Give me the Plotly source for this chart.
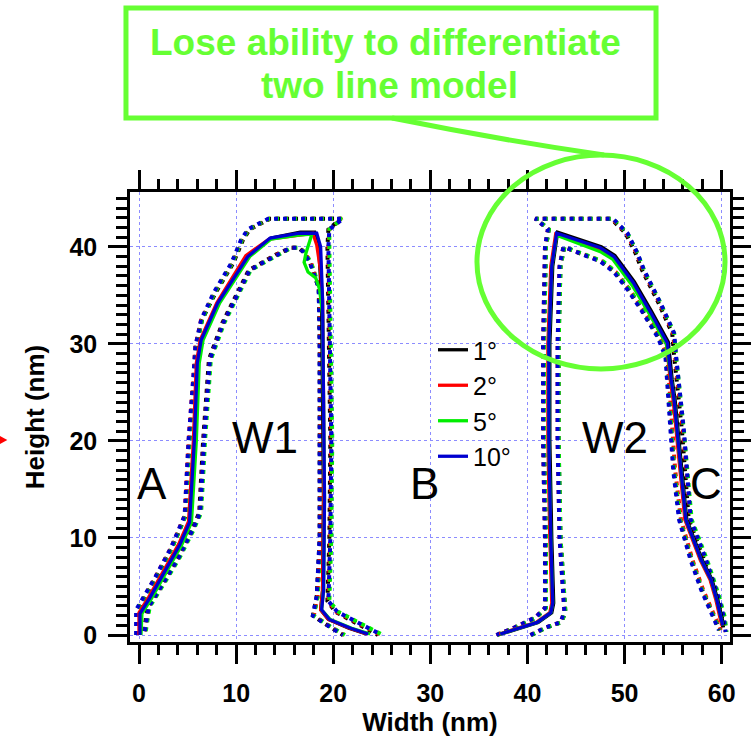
import plotly.graph_objects as go

ANGLES = ["1°", "2°", "5°", "10°"]
COLORS = ["#000000", "#ff0000", "#00ee00", "#0000d0"]

N = None
# ---- best-fit profiles (W1, gap, W2) ----
FIT_X_1 = [0.1, 0.2, 1.2, 2.8, 4.3, 5.3, 5.8, 6.1, 6.5, 8.2, 11.3, 13.6, 16.6, 18.1, 18.5, 18.8, 18.9, 19.0, 18.9, 18.7, 19.5, 21.6, 23.4, N,
           37.3, 39.1, 41.1, 42.5, 42.7, 42.5, 42.3, 42.3, 42.6, 43.1, 45.3, 47.6, 49.0, 51.0, 52.8, 54.5, 54.9, 55.2, 55.9, 56.4, 58.0, 59.0, 59.6, 60.2]
FIT_Y_1 = [0.0, 2.2, 3.8, 6.7, 9.3, 11.6, 20.0, 28.0, 30.4, 34.2, 39.0, 40.9, 41.5, 41.5, 40.0, 34.5, 24.0, 14.0, 4.6, 2.6, 1.6, 0.7, 0.1, N,
           0.1, 0.7, 1.3, 2.3, 3.3, 10.0, 20.0, 30.0, 38.0, 41.5, 40.8, 40.0, 39.1, 36.4, 33.3, 30.2, 26.3, 24.2, 17.0, 11.9, 7.7, 5.7, 3.6, 1.0]
FIT_X_2 = [0.0, 0.0, 1.0, 2.6, 4.1, 5.1, 5.6, 5.9, 6.3, 8.0, 11.0, 13.4, 16.3, 17.9, 18.3, 18.7, 18.9, 19.0, 19.0, 18.9, 18.7, 19.5, 21.7, 23.5, N,
           37.1, 38.9, 40.9, 42.3, 42.5, 42.3, 42.1, 42.1, 42.4, 42.9, 45.1, 47.4, 48.8, 50.8, 52.6, 54.3, 54.7, 55.0, 55.7, 56.2, 57.8, 58.8, 59.4, 60.0]
FIT_Y_2 = [0.0, 2.3, 3.9, 6.8, 9.4, 11.7, 20.0, 28.0, 30.4, 34.2, 39.1, 40.8, 41.2, 41.4, 40.2, 37.5, 34.5, 24.0, 14.0, 4.6, 2.6, 1.6, 0.7, 0.1, N,
           0.1, 0.7, 1.3, 2.3, 3.3, 10.0, 20.0, 30.0, 38.0, 41.3, 40.5, 39.7, 38.8, 36.2, 33.1, 30.0, 26.3, 24.2, 17.0, 11.9, 7.7, 5.7, 3.6, 1.0]
FIT_X_5 = [0.2, 0.3, 1.3, 2.9, 4.4, 5.4, 5.9, 6.2, 6.6, 8.3, 11.4, 13.6, 16.4, 17.8, 17.2, 17.0, 17.4, 18.2, 18.6, 18.9, 19.0, 19.1, 19.0, 18.8, 19.7, 21.9, 23.8, N,
           37.2, 39.0, 41.0, 42.4, 42.6, 42.4, 42.2, 42.2, 42.5, 43.0, 45.2, 47.5, 48.8, 50.8, 52.6, 54.3, 54.8, 55.1, 55.8, 56.3, 57.9, 58.9, 59.5, 60.1]
FIT_Y_5 = [0.0, 2.2, 3.8, 6.7, 9.3, 11.6, 20.0, 28.0, 30.4, 34.2, 39.0, 40.8, 41.2, 41.3, 39.4, 38.4, 37.4, 36.8, 35.6, 33.0, 24.0, 14.0, 4.6, 2.6, 1.6, 0.7, 0.1, N,
           0.1, 0.7, 1.3, 2.3, 3.3, 10.0, 20.0, 30.0, 38.0, 41.2, 40.4, 39.5, 38.7, 36.0, 33.0, 30.0, 26.3, 24.2, 17.0, 11.9, 7.7, 5.7, 3.6, 1.0]
FIT_X_10 = [0.1, 0.1, 1.1, 2.7, 4.2, 5.2, 5.7, 6.0, 6.4, 8.1, 11.2, 13.5, 16.5, 18.3, 18.7, 18.9, 19.0, 19.1, 19.0, 18.8, 19.6, 21.8, 23.6, N,
            37.2, 39.0, 41.0, 42.4, 42.6, 42.4, 42.2, 42.2, 42.5, 43.0, 45.2, 47.5, 48.9, 50.9, 52.7, 54.4, 54.8, 55.1, 55.8, 56.3, 57.9, 58.9, 59.5, 60.1]
FIT_Y_10 = [0.0, 2.2, 3.8, 6.7, 9.3, 11.6, 20.0, 28.0, 30.4, 34.2, 39.0, 40.9, 41.4, 41.4, 40.0, 34.5, 24.0, 14.0, 4.6, 2.6, 1.6, 0.7, 0.1, N,
            0.1, 0.7, 1.3, 2.3, 3.3, 10.0, 20.0, 30.0, 38.0, 41.4, 40.7, 39.9, 39.0, 36.3, 33.2, 30.1, 26.3, 24.2, 17.0, 11.9, 7.7, 5.7, 3.6, 1.0]

# ---- outer confidence bound ----
OUTER_Y = [0.0, 2.6, 6.0, 9.0, 12.3, 20.0, 26.6, 29.7, 32.5, 35.3, 38.3, 40.7, 41.8, 42.6, 42.9, 42.9, 41.8, 40.0, 30.0, 20.0, 10.0, 3.5, 2.4, 1.2, 0.0, N,
           0.0, 0.8, 1.8, 2.8, 10.0, 20.0, 30.0, 40.0, 41.8, 42.9, 42.9, 41.4, 39.4, 37.6, 34.2, 31.1, 28.7, 21.1, 11.9, 7.7, 4.1, 1.9, 0.3]
OUTER_X_1 = [-0.1, -0.1, 1.8, 3.4, 4.8, 5.2, 5.7, 5.9, 6.5, 7.9, 9.7, 10.7, 11.4, 12.8, 13.5, 20.8, 19.5, 19.4, 19.6, 19.7, 19.6, 19.4, 20.2, 22.5, 24.6, N,
             36.9, 38.8, 40.9, 41.9, 41.9, 41.7, 41.7, 41.9, 42.2, 40.9, 48.6, 50.1, 51.1, 51.8, 53.5, 54.9, 55.1, 55.9, 56.6, 58.2, 59.4, 60.0, 60.2]
OUTER_X_2 = [-0.2, -0.2, 1.7, 3.3, 4.7, 5.1, 5.6, 5.8, 6.4, 7.8, 9.6, 10.6, 11.3, 12.7, 13.4, 20.9, 19.6, 19.5, 19.7, 19.8, 19.7, 19.5, 20.3, 22.7, 24.9, N,
             36.8, 38.7, 40.8, 41.8, 41.8, 41.6, 41.6, 41.8, 42.1, 40.8, 48.7, 50.2, 51.2, 51.9, 53.6, 55.0, 55.2, 56.0, 56.8, 58.4, 59.6, 60.2, 60.4]
OUTER_X_5 = [-0.2, -0.2, 1.8, 3.4, 4.8, 5.2, 5.7, 5.9, 6.5, 7.8, 9.6, 10.6, 11.3, 12.7, 13.4, 20.9, 19.6, 19.6, 19.8, 19.9, 19.8, 19.6, 20.5, 22.9, 25.1, N,
             36.9, 38.8, 40.9, 41.9, 41.9, 41.7, 41.7, 41.9, 42.2, 40.9, 48.8, 50.3, 51.3, 52.0, 53.7, 55.1, 55.3, 56.1, 56.9, 58.5, 59.7, 60.3, 60.5]
OUTER_X_10 = [-0.3, -0.3, 1.7, 3.3, 4.7, 5.1, 5.6, 5.8, 6.4, 7.7, 9.5, 10.5, 11.2, 12.6, 13.3, 21.0, 19.6, 19.5, 19.7, 19.8, 19.7, 19.5, 20.4, 22.8, 25.0, N,
              36.8, 38.7, 40.8, 41.8, 41.8, 41.6, 41.6, 41.8, 42.1, 40.8, 48.8, 50.3, 51.3, 52.0, 53.7, 55.1, 55.3, 56.1, 56.8, 58.4, 59.6, 60.2, 60.4]

# ---- inner confidence bound ----
INNER_Y = [0.4, 2.9, 5.5, 8.0, 10.8, 12.6, 20.0, 28.4, 32.2, 35.6, 37.6, 38.5, 39.2, 39.9, 39.9, 39.5, 38.4, 36.9, 35.8, 30.0, 20.0, 10.0, 4.0, 2.0, 1.0, 0.0, N,
           0.0, 0.8, 1.3, 2.4, 10.0, 20.0, 30.0, 38.0, 40.0, 39.4, 38.5, 37.4, 35.6, 33.5, 30.7, 28.7, 24.2, 17.0, 11.9, 7.7, 4.6, 2.4, 0.5]
INNER_X_1 = [0.5, 0.9, 2.5, 4.0, 5.4, 6.2, 6.6, 7.2, 8.6, 10.3, 11.3, 12.9, 14.1, 15.6, 16.4, 16.9, 17.6, 18.1, 18.5, 18.6, 18.6, 18.6, 18.3, 17.9, 19.4, 21.0, N,
             40.4, 42.0, 43.5, 43.9, 43.4, 43.2, 43.2, 43.4, 43.8, 45.2, 47.6, 49.0, 50.4, 51.8, 53.5, 54.3, 54.6, 55.1, 55.7, 56.9, 58.0, 59.0, 59.8]
INNER_X_2 = [0.6, 1.0, 2.6, 4.1, 5.5, 6.3, 6.7, 7.3, 8.7, 10.4, 11.4, 13.0, 14.2, 15.7, 16.5, 17.0, 17.7, 18.2, 18.6, 18.7, 18.7, 18.7, 18.4, 18.0, 19.5, 21.1, N,
             40.3, 41.9, 43.4, 43.8, 43.3, 43.1, 43.1, 43.3, 43.7, 45.3, 47.7, 49.1, 50.5, 51.9, 53.6, 54.4, 54.7, 55.2, 55.8, 57.0, 58.1, 59.1, 59.9]
INNER_X_5 = [0.7, 1.1, 2.7, 4.2, 5.6, 6.4, 6.8, 7.4, 8.8, 10.5, 11.5, 13.1, 14.3, 15.7, 16.5, 17.0, 17.7, 18.2, 18.6, 18.7, 18.7, 18.7, 18.4, 18.0, 19.5, 21.2, N,
             40.4, 42.0, 43.5, 43.9, 43.4, 43.2, 43.2, 43.4, 43.8, 45.4, 47.8, 49.1, 50.5, 51.9, 53.5, 54.3, 54.6, 55.1, 55.7, 56.9, 58.0, 59.0, 59.8]
INNER_X_10 = [0.6, 1.0, 2.6, 4.1, 5.5, 6.3, 6.7, 7.3, 8.7, 10.4, 11.4, 13.0, 14.2, 15.6, 16.4, 16.9, 17.6, 18.1, 18.5, 18.6, 18.6, 18.6, 18.3, 17.9, 19.4, 21.0, N,
              40.3, 41.9, 43.4, 43.8, 43.3, 43.1, 43.1, 43.3, 43.7, 45.2, 47.5, 48.9, 50.3, 51.7, 53.4, 54.2, 54.5, 55.0, 55.6, 56.8, 57.9, 58.9, 59.7]

FIT_X = [FIT_X_1, FIT_X_2, FIT_X_5, FIT_X_10]
FIT_Y = [FIT_Y_1, FIT_Y_2, FIT_Y_5, FIT_Y_10]
OUTER_X = [OUTER_X_1, OUTER_X_2, OUTER_X_5, OUTER_X_10]
INNER_X = [INNER_X_1, INNER_X_2, INNER_X_5, INNER_X_10]

REGION_LABELS = ["W1", "W2", "A", "B", "C"]
REGION_X = [13.0, 49.0, 1.3, 29.4, 58.4]
REGION_Y = [20.4, 20.4, 15.6, 15.6, 15.6]

FONT = "Liberation Sans, Arial, sans-serif"
GREEN = "#66ff33"

fig = go.Figure()
for i, name in enumerate(ANGLES):
    c = COLORS[i]
    fig.add_trace(go.Scatter(x=OUTER_X[i], y=OUTER_Y, mode="lines", showlegend=False,
                             line=dict(color=c, width=4, dash="4px,5px"), hoverinfo="skip"))
    fig.add_trace(go.Scatter(x=INNER_X[i], y=INNER_Y, mode="lines", showlegend=False,
                             line=dict(color=c, width=4, dash="4px,5px"), hoverinfo="skip"))
for i, name in enumerate(ANGLES):
    c = COLORS[i]
    fig.add_trace(go.Scatter(x=FIT_X[i], y=FIT_Y[i], mode="lines", name=name,
                             line=dict(color=c, width=3.3)))

for t, x, y in zip(REGION_LABELS, REGION_X, REGION_Y):
    fig.add_annotation(x=x, y=y, text=t, showarrow=False, xanchor="center", yanchor="middle",
                       font=dict(family=FONT, size=44, color="black"))

# callout
fig.add_annotation(xref="paper", yref="paper", x=0.425, y=1.333, text="Lose ability to differentiate",
                   showarrow=False, xanchor="center", yanchor="middle",
                   font=dict(family=FONT, size=37, color=GREEN, weight="bold"))
fig.add_annotation(xref="paper", yref="paper", x=0.4333, y=1.2356, text="two line model",
                   showarrow=False, xanchor="center", yanchor="middle",
                   font=dict(family=FONT, size=37, color=GREEN, weight="bold"))
fig.add_shape(type="rect", xref="paper", yref="paper", x0=-0.0067, x1=0.8767, y0=1.1644, y1=1.4089,
              line=dict(color=GREEN, width=5), layer="above")
fig.add_shape(type="path", xref="paper", yref="paper",
              path="M 0.4367,1.1644 Q 0.62,1.115 0.79,1.0822",
              line=dict(color=GREEN, width=5), layer="above")
fig.add_shape(type="circle", xref="paper", yref="paper", x0=0.5783, x1=0.9917, y0=0.6067, y1=1.0822,
              line=dict(color=GREEN, width=5), layer="above")
# small red arrow head at left edge
fig.add_shape(type="path", xref="paper", yref="paper",
              path="M -0.2167,0.4578 L -0.2045,0.4489 L -0.2167,0.44 Z",
              fillcolor="red", line=dict(color="red", width=0), layer="above")

axis_common = dict(
    showline=True, linecolor="black", linewidth=2.5, mirror="allticks",
    ticks="outside", ticklen=19, tickwidth=2.5, tickcolor="black",
    showgrid=True, gridcolor="#8c8cff", gridwidth=1, griddash="3px,3px",
    zeroline=False, automargin=False,
    tickfont=dict(family=FONT, size=25, color="black", weight="bold"),
)
fig.update_xaxes(range=[-0.927, 60.85], tick0=0, dtick=10,
                 minor=dict(dtick=2, ticks="outside", ticklen=10, tickwidth=2.5, tickcolor="black", showgrid=False),
                 title=dict(text="Width (nm)", font=dict(family=FONT, size=26, color="black", weight="bold"), standoff=8),
                 ticklabelstandoff=8, **axis_common)
fig.update_yaxes(range=[-0.72, 45.65], tick0=0, dtick=10,
                 minor=dict(dtick=1, ticks="outside", ticklen=11, tickwidth=2.5, tickcolor="black", showgrid=False),
                 title=dict(text="Height (nm)", font=dict(family=FONT, size=26, color="black", weight="bold"), standoff=18),
                 ticklabelstandoff=6, **axis_common)

fig.update_layout(
    width=751, height=737,
    margin=dict(l=130, r=21, t=192, b=95),
    paper_bgcolor="white", plot_bgcolor="white",
    showlegend=True,
    legend=dict(x=0.505, y=0.70, xanchor="left", yanchor="top", bgcolor="rgba(0,0,0,0)",
                font=dict(family=FONT, size=25, color="black"), tracegroupgap=0),
)
fig.write_html("out.html")
